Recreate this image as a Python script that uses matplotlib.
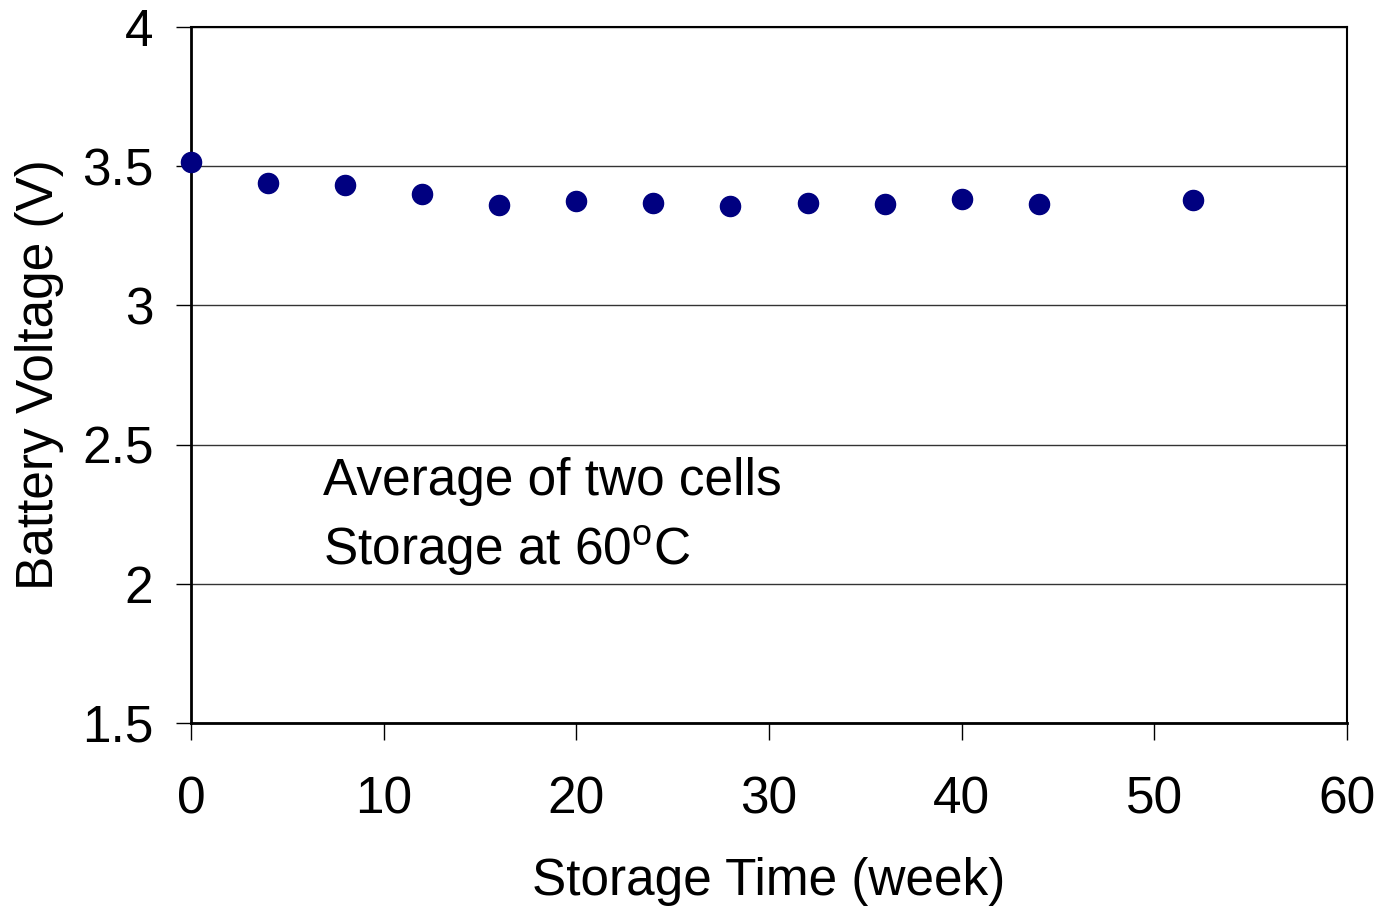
import matplotlib.pyplot as plt

plt.rcParams['font.family'] = ['Liberation Sans', 'DejaVu Sans']
plt.rcParams['mathtext.fontset'] = 'custom'
plt.rcParams['mathtext.rm'] = 'Liberation Sans'

# storage data
weeks = [0, 4, 8, 12, 16, 20, 24, 28, 32, 36, 40, 44, 52]
voltage = [3.515, 3.44, 3.432, 3.40, 3.36, 3.375, 3.368, 3.357, 3.368, 3.364, 3.382, 3.364, 3.379]

xticks = [0, 10, 20, 30, 40, 50, 60]
yticks = [1.5, 2, 2.5, 3, 3.5, 4]
ytick_labels = ['1.5', '2', '2.5', '3', '3.5', '4']

fig = plt.figure(figsize=(13.8, 9.07), dpi=100)
ax = fig.add_axes([0.1384, 0.2029, 0.8377, 0.7673])

ax.scatter(weeks, voltage, s=210, color='#000080', zorder=3, clip_on=False)

ax.set_xlim(0, 60)
ax.set_ylim(1.5, 4)
ax.set_xticks(xticks)
ax.set_yticks(yticks)
ax.set_yticklabels(ytick_labels)
ax.yaxis.grid(True, color='#333333', linewidth=1.0)
ax.set_axisbelow(True)

ax.tick_params(axis='x', direction='out', length=12, width=1, labelsize=37, pad=26)
ax.tick_params(axis='y', direction='out', length=11, width=1, labelsize=37, pad=16)

for side in ['left', 'bottom']:
    ax.spines[side].set_linewidth(2)
for side in ['top', 'right']:
    ax.spines[side].set_linewidth(1.5)

ax.set_xlabel('Storage Time (week)', fontsize=37, labelpad=23.5)
ax.set_ylabel('Battery Voltage (V)', fontsize=37, labelpad=13)

ax.text(6.85, 2.32, 'Average of two cells', fontsize=37, va='baseline')
ax.text(6.85, 2.068, 'Storage at 60$^{\\rm o}$C', fontsize=37, va='baseline')

fig.savefig('out.png', dpi=100)
